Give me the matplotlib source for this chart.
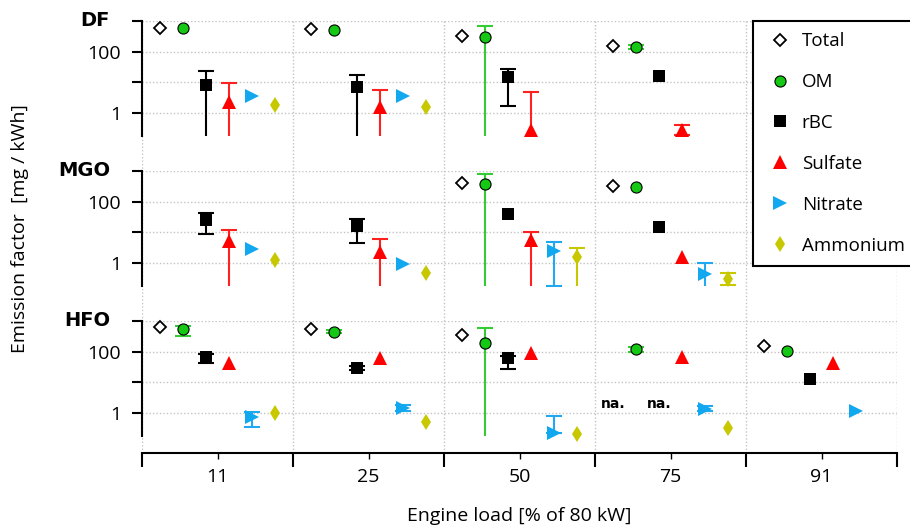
import numpy as np
import matplotlib
matplotlib.use("Agg")
import matplotlib.pyplot as plt
from matplotlib.lines import Line2D
from matplotlib.ticker import NullLocator

plt.rcParams['font.family'] = ['Open Sans', 'DejaVu Sans']

nan = np.nan
loads = ['11', '25', '50', '75', '91']
species = ['Total', 'OM', 'rBC', 'Sulfate', 'Nitrate', 'Ammonium']

# rows: Total, OM, rBC, Sulfate, Nitrate, Ammonium ; columns: engine loads
df_vals = [[600, 540, 320, 155, nan],
           [580, 510, 310, 145, nan],
           [8.2, 6.9, 15, 16, nan],
           [2.3, 1.6, 0.28, 0.28, nan],
           [3.7, 3.7, nan, nan, nan],
           [1.8, 1.6, nan, nan, nan]]
df_lo = [[nan] * 5,
         [nan, nan, 0.01, 125, nan],
         [0.01, 0.01, 1.7, nan, nan],
         [0.01, 0.01, 0.01, 0.19, nan],
         [nan] * 5,
         [nan] * 5]
df_hi = [[nan] * 5,
         [nan, nan, 690, 160, nan],
         [24, 18, 28, nan, nan],
         [9.7, 5.6, 4.9, 0.41, nan],
         [nan] * 5,
         [nan] * 5]

mgo_vals = [[nan, nan, 415, 320, nan],
            [nan, nan, 380, 310, nan],
            [25, 16, 40, 14.5, nan],
            [5.2, 2.3, 5.6, 1.6, nan],
            [2.9, 0.93, 2.5, 0.43, nan],
            [1.25, 0.48, 1.6, 0.29, nan]]
mgo_lo = [[nan] * 5,
          [nan, nan, 0.01, nan, nan],
          [9, 4.5, nan, nan, nan],
          [0.01, 0.01, 0.01, nan, nan],
          [nan, nan, 0.18, 0.01, nan],
          [nan, nan, 0.01, 0.19, nan]]
mgo_hi = [[nan] * 5,
          [nan, nan, 800, nan, nan],
          [42, 27, nan, nan, nan],
          [12, 6.2, 10.5, nan, nan],
          [nan, nan, 4.8, 1.0, nan],
          [nan, nan, 3.2, 0.48, nan]]

hfo_vals = [[650, 535, 350, nan, 156],
            [530, 447, 195, 122, 105],
            [69, 29, 63, nan, 13],
            [42, 61, 93, 66, 42],
            [0.72, 1.5, 0.23, 1.4, 1.16],
            [1.0, 0.52, 0.2, 0.33, nan]]
hfo_lo = [[nan] * 5,
          [330, 400, 0.01, 100, nan],
          [42, 25, 28, nan, nan],
          [nan] * 5,
          [0.34, 1.2, 0.22, 1.15, nan],
          [nan] * 5]
hfo_hi = [[nan] * 5,
          [700, 500, 590, 145, nan],
          [85, 33, 75, nan, nan],
          [nan] * 5,
          [1.1, 1.8, 0.8, 1.65, nan],
          [nan] * 5]
hfo_na = [(3, 0), (3, 2)]  # (load index, species index) not available

panels = [('DF', df_vals, df_lo, df_hi),
          ('MGO', mgo_vals, mgo_lo, mgo_hi),
          ('HFO', hfo_vals, hfo_lo, hfo_hi)]

styles = [dict(marker='D', ms=6.5, mfc='white', mec='black', mew=1.3),
          dict(marker='o', ms=8, mfc='#14c814', mec='black', mew=0.8),
          dict(marker='s', ms=8, mfc='black', mec='black', mew=0),
          dict(marker='^', ms=9.5, mfc='#ff0000', mec='#ff0000', mew=0),
          dict(marker='>', ms=9.5, mfc='#12a8f0', mec='#12a8f0', mew=0),
          dict(marker='d', ms=8, mfc='#c8c800', mec='#c8c800', mew=0)]
err_colors = ['black', '#33cc33', 'black', '#ff2020', '#20a8f0', '#c8c800']

W, H = 910, 529


def rect(x0, y0, x1, y1):
    return [x0 / W, 1 - y1 / H, (x1 - x0) / W, (y1 - y0) / H]


fig = plt.figure(figsize=(W / 100, H / 100), dpi=100)
grid_kw = dict(color='#c4c4c4', linestyle=(0, (1, 1.5)), linewidth=1)

axb = fig.add_axes(rect(142, 21, 897, 453))
axb.set_xlim(0, 5)
axb.set_ylim(0, 1)
for s in ['left', 'top', 'right']:
    axb.spines[s].set_visible(False)
axb.spines['bottom'].set_linewidth(1.5)
axb.set_yticks([])
axb.set_xticks(range(6))
axb.set_xticklabels([])
centers = np.arange(5) + 0.5
axb.set_xticks(centers, loads, minor=True)
axb.tick_params(axis='x', which='major', length=10, width=1.5, direction='out')
axb.tick_params(axis='x', which='minor', length=4, width=1, pad=7, labelsize=14)
axb.grid(axis='x', which='major', **grid_kw)

ymin, ymax = 0.18, 1000
ph = np.log10(ymax / ymin) * 30.67
for i, (name, vals, lo, hi) in enumerate(panels):
    top = 21 + 150 * i
    ax = fig.add_axes(rect(142, top, 897, top + ph))
    ax.patch.set_alpha(0)
    ax.set_yscale('log')
    ax.set_ylim(ymin, ymax)
    ax.set_xlim(0, 5)
    ax.set_xticks([])
    ax.set_yticks([1, 10, 100, 1000])
    ax.set_yticklabels(['1', '', '100', ''])
    ax.yaxis.set_minor_locator(NullLocator())
    ax.tick_params(axis='y', length=7, width=1.5, pad=8, labelsize=14)
    for s in ['bottom', 'top', 'right']:
        ax.spines[s].set_visible(False)
    ax.spines['left'].set_linewidth(1.5)
    ax.grid(axis='y', which='major', **grid_kw)
    ax.set_axisbelow(True)

    for k in range(6):
        x = np.arange(5) + 0.5 + (k - 2.5) * 0.152
        v = np.array(vals[k], dtype=float)
        l = np.array(lo[k], dtype=float)
        h = np.array(hi[k], dtype=float)
        m = ~np.isnan(l) | ~np.isnan(h)
        if m.any():
            ll = np.where(np.isnan(l), v, l)
            hh = np.where(np.isnan(h), v, h)
            ax.errorbar(x[m], v[m], yerr=[v[m] - ll[m], hh[m] - v[m]], fmt='none',
                        ecolor=err_colors[k], elinewidth=1.5, capsize=6, capthick=1.5,
                        zorder=2)
        ax.plot(x, v, ls='none', zorder=3, clip_on=False, **styles[k])

    if name == 'HFO':
        for j, k in hfo_na:
            ax.text(j + 0.5 + (k - 2.5) * 0.152, 2.0, 'na.', ha='center', va='center',
                    fontsize=10, fontweight='bold', family='DejaVu Sans')

    fig.text(110 / W, 1 - (top - 1) / H, name, ha='right', va='center',
             fontsize=14, fontweight='bold', family='DejaVu Sans')

fig.text(20 / W, 1 - 229 / H, 'Emission factor  [mg / kWh]', rotation=90,
         ha='center', va='center', fontsize=14)
fig.text(519 / W, 1 - 516 / H, 'Engine load [% of 80 kW]', ha='center', va='center',
         fontsize=14)

handles = [Line2D([], [], ls='none', **st) for st in styles]
leg = fig.legend(handles, species, loc='upper left', bbox_to_anchor=(753 / W, 1 - 21 / H),
                 borderaxespad=0, fontsize=13.5, frameon=True, fancybox=False,
                 framealpha=1, edgecolor='black', labelspacing=1.22,
                 handlelength=1.7, handletextpad=0.3, borderpad=0.6)
leg.get_frame().set_linewidth(1.5)

fig.savefig('out.png', dpi=100)
